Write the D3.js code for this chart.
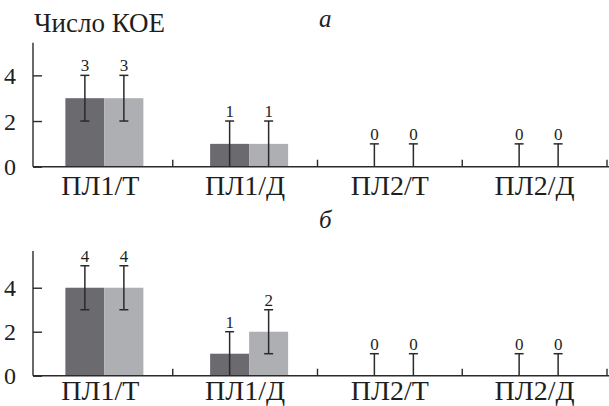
<!DOCTYPE html>
<html>
<head>
<meta charset="utf-8">
<script src="https://cdn.jsdelivr.net/npm/d3@7"></script>
<style>
  html, body { margin: 0; padding: 0; background: #fff; }
  svg { display: block; }
</style>
</head>
<body>
<svg id="chart" width="609" height="406" font-family="Liberation Serif"></svg>
<script>
// ---- data ----
const categories = ["ПЛ1/Т", "ПЛ1/Д", "ПЛ2/Т", "ПЛ2/Д"];
const seriesNames = ["dark", "light"];
const panelA_dark  = [3, 1, 0, 0];
const panelA_light = [3, 1, 0, 0];
const panelA_err   = [1, 1, 1, 1];
const panelB_dark  = [4, 1, 0, 0];
const panelB_light = [4, 2, 0, 0];
const panelB_err   = [1, 1, 1, 1];
const yTicks = [0, 2, 4];
const panelLetters = ["а", "б"];
const yTitle = "Число КОЕ";

// ---- layout ----
const FONT = "Liberation Serif";
const W = 609, H = 406;
const axisX = 33;
const colors = { dark: "#6a6a6f", light: "#aeafb2" };
const ink = "#2a2a2a";
const svg = d3.select("#chart");

const x0 = d3.scaleBand().domain(categories).range([28, 607]).padding(0);
const barOffset = 4;
const barW = 39;
const x1 = d3.scaleBand().domain(seriesNames).range([-barW, barW]).padding(0);

const panels = [
  { dark: panelA_dark, light: panelA_light, err: panelA_err, base: 166.7, top: 42.7, ymax: 5.43, letter: panelLetters[0], letterY: 26.5, labelY: 195 },
  { dark: panelB_dark, light: panelB_light, err: panelB_err, base: 375.7, top: 251, ymax: 5.67, letter: panelLetters[1], letterY: 228, labelY: 400 }
];

function txt(sel) {
  return sel.attr("font-family", FONT).attr("fill", "#1e1e1e");
}

panels.forEach((p, pi) => {
  const y = d3.scaleLinear().domain([0, p.ymax]).range([p.base, p.top]);
  const g = svg.append("g");

  const rows = [];
  categories.forEach((c, i) => {
    seriesNames.forEach(s => {
      rows.push({ cat: c, s: s, v: p[s][i], e: p.err[i] });
    });
  });

  // bars
  g.selectAll("rect.bar").data(rows).join("rect")
    .attr("class", "bar")
    .attr("x", d => x0(d.cat) + x0.bandwidth() / 2 + barOffset + x1(d.s))
    .attr("width", x1.bandwidth())
    .attr("y", d => y(d.v))
    .attr("height", d => y(0) - y(d.v))
    .attr("fill", d => colors[d.s]);

  // error bars
  const cx = d => x0(d.cat) + x0.bandwidth() / 2 + barOffset + x1(d.s) + x1.bandwidth() / 2;
  const lo = d => Math.max(0, d.v - d.e);
  const hi = d => d.v + d.e;
  const eg = g.selectAll("g.err").data(rows).join("g").attr("class", "err");
  eg.append("line")
    .attr("x1", cx).attr("x2", cx)
    .attr("y1", d => y(lo(d))).attr("y2", d => y(hi(d)))
    .attr("stroke", ink).attr("stroke-width", 1.5);
  eg.append("line")
    .attr("x1", d => cx(d) - 4.5).attr("x2", d => cx(d) + 4.5)
    .attr("y1", d => y(hi(d))).attr("y2", d => y(hi(d)))
    .attr("stroke", ink).attr("stroke-width", 1.5);
  eg.filter(d => lo(d) > 0).append("line")
    .attr("x1", d => cx(d) - 4.5).attr("x2", d => cx(d) + 4.5)
    .attr("y1", d => y(lo(d))).attr("y2", d => y(lo(d)))
    .attr("stroke", ink).attr("stroke-width", 1.5);
  txt(eg.append("text"))
    .attr("x", cx)
    .attr("y", d => y(hi(d)) - 4)
    .attr("text-anchor", "middle")
    .attr("font-size", 17)
    .text(d => d.v);

  // y axis
  const yAxis = d3.axisLeft(y).tickValues(yTicks).tickSize(-9).tickPadding(17).tickFormat(d3.format("d"));
  const ya = g.append("g").attr("transform", `translate(${axisX},0)`).call(yAxis);
  ya.attr("font-family", FONT).attr("font-size", 24);
  ya.select(".domain").attr("d", `M0,${p.top}V${p.base}`).attr("stroke", ink).attr("stroke-width", 1.4);
  ya.selectAll(".tick line").attr("stroke", ink).attr("stroke-width", 1.4);
  txt(ya.selectAll(".tick text")).attr("font-size", 24).attr("dy", "0.34em");

  // x axis
  const boundaries = categories.slice(1).map(c => x0(c)).concat([x0.range()[1]]);
  g.append("line")
    .attr("x1", axisX).attr("x2", W)
    .attr("y1", p.base).attr("y2", p.base)
    .attr("stroke", ink).attr("stroke-width", 1.4);
  g.selectAll("line.ctick").data(boundaries).join("line")
    .attr("class", "ctick")
    .attr("x1", d => d).attr("x2", d => d)
    .attr("y1", p.base).attr("y2", p.base - 7)
    .attr("stroke", ink).attr("stroke-width", 1.4);
  txt(g.selectAll("text.cat").data(categories).join("text"))
    .attr("class", "cat")
    .attr("x", d => x0(d) + x0.bandwidth() / 2)
    .attr("y", p.labelY)
    .attr("text-anchor", "middle")
    .attr("font-size", 28)
    .text(d => d);

  // panel letter
  txt(g.append("text"))
    .attr("x", 319).attr("y", p.letterY)
    .attr("font-size", 25).attr("font-style", "italic")
    .text(p.letter);
});

// y title
txt(svg.append("text")).attr("x", 34).attr("y", 31.5).attr("font-size", 27).text(yTitle);
</script>
</body>
</html>
